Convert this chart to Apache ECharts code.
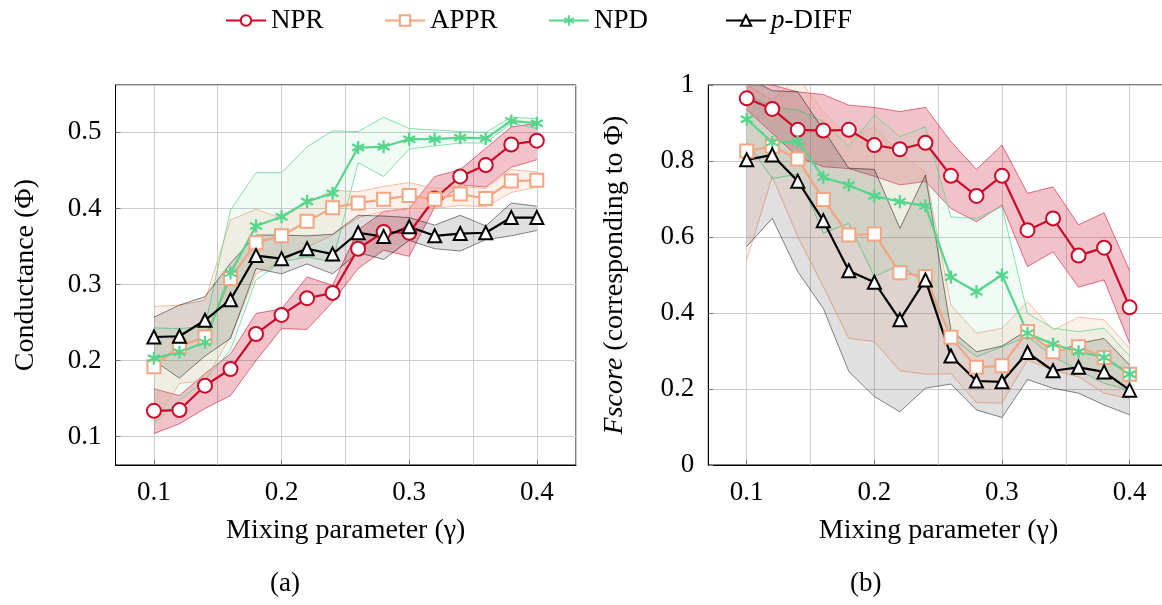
<!DOCTYPE html>
<html>
<head>
<meta charset="utf-8">
<script src="https://cdn.jsdelivr.net/npm/echarts@6/dist/echarts.min.js"></script>
<style>
  html, body { margin: 0; padding: 0; background: #fff; }
  #chart { width: 1162px; height: 605px; }
</style>
</head>
<body>
<div id="chart"></div>
<script>
// mixing parameter (gamma)
const gamma = [0.10, 0.12, 0.14, 0.16, 0.18, 0.20, 0.22, 0.24, 0.26, 0.28, 0.30, 0.32, 0.34, 0.36, 0.38, 0.40];

// (a) conductance
const nprCond    = [0.134, 0.135, 0.167, 0.189, 0.235, 0.260, 0.282, 0.289, 0.347, 0.369, 0.368, 0.413, 0.442, 0.457, 0.484, 0.489];
const nprCondLo  = [0.104, 0.117, 0.137, 0.154, 0.200, 0.242, 0.241, 0.277, 0.321, 0.345, 0.337, 0.402, 0.431, 0.428, 0.454, 0.464];
const nprCondHi  = [0.163, 0.154, 0.183, 0.209, 0.262, 0.268, 0.310, 0.299, 0.372, 0.396, 0.400, 0.442, 0.451, 0.479, 0.507, 0.512];
const apprCond   = [0.192, 0.219, 0.231, 0.308, 0.355, 0.364, 0.383, 0.401, 0.407, 0.412, 0.417, 0.412, 0.419, 0.413, 0.436, 0.437];
const apprCondLo = [0.117, 0.170, 0.174, 0.231, 0.314, 0.330, 0.349, 0.365, 0.388, 0.396, 0.400, 0.400, 0.404, 0.402, 0.421, 0.428];
const apprCondHi = [0.271, 0.273, 0.279, 0.385, 0.399, 0.387, 0.407, 0.424, 0.422, 0.429, 0.434, 0.426, 0.429, 0.426, 0.451, 0.448];
const npdCond    = [0.203, 0.211, 0.224, 0.315, 0.377, 0.389, 0.409, 0.420, 0.480, 0.481, 0.491, 0.491, 0.493, 0.492, 0.515, 0.512];
const npdCondLo  = [0.117, 0.148, 0.174, 0.214, 0.306, 0.330, 0.336, 0.330, 0.460, 0.442, 0.478, 0.482, 0.486, 0.486, 0.512, 0.505];
const npdCondHi  = [0.243, 0.242, 0.245, 0.398, 0.447, 0.447, 0.481, 0.502, 0.501, 0.520, 0.505, 0.503, 0.501, 0.500, 0.520, 0.518];
const pdiffCond  = [0.231, 0.232, 0.253, 0.280, 0.338, 0.334, 0.347, 0.340, 0.368, 0.363, 0.376, 0.364, 0.367, 0.368, 0.388, 0.388];
const pdiffCondLo = [0.200, 0.177, 0.206, 0.229, 0.321, 0.314, 0.327, 0.314, 0.342, 0.333, 0.358, 0.347, 0.344, 0.359, 0.364, 0.371];
const pdiffCondHi = [0.257, 0.273, 0.284, 0.328, 0.365, 0.365, 0.364, 0.366, 0.391, 0.390, 0.388, 0.378, 0.391, 0.377, 0.407, 0.403];

// (b) fscore
const nprF     = [0.965, 0.937, 0.882, 0.880, 0.882, 0.842, 0.831, 0.848, 0.761, 0.708, 0.761, 0.618, 0.649, 0.551, 0.572, 0.415];
const nprFLo   = [0.935, 0.873, 0.811, 0.785, 0.780, 0.760, 0.737, 0.746, 0.675, 0.640, 0.684, 0.522, 0.561, 0.468, 0.487, 0.320];
const nprFHi   = [1.010, 1.000, 0.982, 0.975, 0.947, 0.941, 0.930, 0.941, 0.851, 0.778, 0.842, 0.715, 0.732, 0.632, 0.664, 0.511];
const apprF    = [0.826, 0.839, 0.805, 0.699, 0.605, 0.608, 0.506, 0.496, 0.336, 0.257, 0.261, 0.351, 0.298, 0.311, 0.283, 0.239];
const apprFLo  = [0.539, 0.759, 0.601, 0.469, 0.333, 0.325, 0.248, 0.239, 0.240, 0.164, 0.163, 0.276, 0.250, 0.232, 0.189, 0.175];
const apprFHi  = [1.000, 0.960, 1.020, 0.930, 0.860, 0.890, 0.820, 0.770, 0.421, 0.347, 0.360, 0.430, 0.355, 0.389, 0.382, 0.307];
const npdF     = [0.910, 0.849, 0.851, 0.757, 0.737, 0.708, 0.693, 0.682, 0.494, 0.456, 0.500, 0.347, 0.318, 0.298, 0.283, 0.239];
const npdFLo   = [0.850, 0.754, 0.765, 0.610, 0.636, 0.496, 0.526, 0.478, 0.338, 0.285, 0.311, 0.338, 0.285, 0.250, 0.215, 0.197];
const npdFHi   = [0.974, 0.943, 0.934, 0.904, 0.838, 0.921, 0.864, 0.890, 0.653, 0.649, 0.680, 0.399, 0.360, 0.351, 0.360, 0.287];
const pdiffF   = [0.803, 0.816, 0.747, 0.643, 0.511, 0.481, 0.382, 0.487, 0.287, 0.221, 0.219, 0.296, 0.248, 0.257, 0.245, 0.197];
const pdiffFLo = [0.575, 0.649, 0.509, 0.412, 0.246, 0.180, 0.140, 0.202, 0.213, 0.145, 0.125, 0.225, 0.202, 0.189, 0.158, 0.132];
const pdiffFHi = [1.020, 0.985, 0.982, 0.882, 0.781, 0.778, 0.623, 0.763, 0.355, 0.298, 0.313, 0.355, 0.294, 0.320, 0.333, 0.263];

const FONT = '"Liberation Serif", "DejaVu Serif", serif';
const RED = '#cc0a2a';
const ORANGE = '#f4a582';
const GREEN = '#55d68c';
const BLACK = '#000000';

// asterisk mark made of three crossing bars
function asteriskPath() {
    const parts = [];
    [90, 30, 150].forEach(deg => {
        const a = deg * Math.PI / 180;
        const dx = Math.cos(a), dy = Math.sin(a);
        const px = -dy * 1.7, py = dx * 1.7;
        const pts = [
            [10 * dx + px, 10 * dy + py],
            [10 * dx - px, 10 * dy - py],
            [-10 * dx - px, -10 * dy - py],
            [-10 * dx + px, -10 * dy + py]
        ];
        parts.push('M' + pts.map(p => p[0].toFixed(2) + ',' + p[1].toFixed(2)).join(' L') + ' Z');
    });
    return 'path://' + parts.join(' ');
}

function pairs(ys) {
    return gamma.map((g, i) => [g, ys[i]]);
}

// shaded min/max band: one polygon between lower and upper edge, drawn with the axis scales
function band(lo, hi, color, fill, gi) {
    return {
        type: 'custom', xAxisIndex: gi, yAxisIndex: gi, silent: true,
        data: pairs(lo),
        encode: { x: 0, y: 1 },
        renderItem: (params, api) => {
            if (params.dataIndex !== 0) return null;
            const loPts = gamma.map((g, i) => api.coord([g, lo[i]]));
            const hiPts = gamma.map((g, i) => api.coord([g, hi[i]]));
            const cs = params.coordSys;
            return {
                type: 'group',
                clipPath: { type: 'rect', shape: { x: cs.x, y: cs.y, width: cs.width, height: cs.height } },
                children: [{
                    type: 'polygon',
                    shape: { points: loPts.concat(hiPts.slice().reverse()) },
                    style: { fill: fill, stroke: null }
                }, {
                    type: 'polyline', shape: { points: loPts },
                    style: { fill: null, stroke: color, lineWidth: 0.8 }
                }, {
                    type: 'polyline', shape: { points: hiPts },
                    style: { fill: null, stroke: color, lineWidth: 0.8 }
                }]
            };
        }
    };
}

function mainLine(name, ys, color, symbol, filled, gi) {
    return {
        type: 'line', name: name, xAxisIndex: gi, yAxisIndex: gi,
        data: pairs(ys), symbol: symbol, symbolSize: symbol === 'circle' ? 14 : 13,
        lineStyle: { color: color, width: 2.2 },
        itemStyle: filled
            ? { color: color, borderWidth: 0 }
            : { color: '#ffffff', borderColor: color, borderWidth: 2 }
    };
}

function seriesFor(gi, d) {
    return [
        band(d.nprLo, d.nprHi, 'rgba(204,10,42,0.7)', 'rgba(204,10,42,0.25)', gi),
        band(d.apprLo, d.apprHi, 'rgba(244,165,130,0.9)', 'rgba(244,165,130,0.16)', gi),
        band(d.npdLo, d.npdHi, 'rgba(85,214,140,0.9)', 'rgba(85,214,140,0.09)', gi),
        band(d.pdiffLo, d.pdiffHi, 'rgba(0,0,0,0.6)', 'rgba(0,0,0,0.12)', gi),
        mainLine('NPR', d.npr, RED, 'circle', false, gi),
        mainLine('APPR', d.appr, ORANGE, 'rect', false, gi),
        mainLine('NPD', d.npd, GREEN, asteriskPath(), true, gi),
        mainLine('p-DIFF', d.pdiff, BLACK, 'triangle', false, gi)
    ];
}

const axisText = { fontFamily: FONT, fontSize: 27, color: '#000' };
const nameText = { fontFamily: FONT, fontSize: 28, color: '#000' };
const gridLine = { show: true, lineStyle: { color: '#cccccc', width: 1 } };

function xAxisFor(gi) {
    return {
        type: 'value', gridIndex: gi, min: 0.0699, max: 0.4307,
        name: 'Mixing parameter (\u03b3)', nameLocation: 'middle', nameGap: 52,
        nameTextStyle: nameText,
        axisLine: { show: true, onZero: false, lineStyle: { color: '#000', width: 1 } },
        axisTick: { show: true, inside: true, length: 5, lineStyle: { color: '#777' } },
        axisLabel: Object.assign({
            margin: 14, showMinLabel: false, showMaxLabel: false,
            formatter: v => v.toFixed(1)
        }, axisText),
        splitLine: gridLine,
        minorTick: { show: false, splitNumber: 2 },
        minorSplitLine: gridLine
    };
}

function legendItem(name, left) {
    return {
        data: [name], left: left, top: 2, itemWidth: 40, itemHeight: 13, itemGap: 0,
        textStyle: {
            fontFamily: FONT, fontSize: 27, color: '#000', padding: [0, 0, 0, 0],
            rich: { i: { fontFamily: FONT, fontSize: 27, fontStyle: 'italic' } }
        },
        formatter: n => n === 'p-DIFF' ? '{i|p}-DIFF' : n
    };
}

const chart = echarts.init(document.getElementById('chart'), null, { renderer: 'canvas' });

const option = {
    animation: false,
    backgroundColor: '#ffffff',
    legend: [
        legendItem('NPR', 220),
        legendItem('APPR', 379),
        legendItem('NPD', 543),
        legendItem('p-DIFF', 720)
    ],
    grid: [
        { left: 115.5, top: 85, right: 586, height: 380, show: true, borderColor: '#000', borderWidth: 1,
          outerBoundsMode: 'none' },
        { left: 708.3, top: 85, right: -6.8, height: 380, show: true, borderColor: '#000', borderWidth: 1,
          outerBoundsMode: 'none' }
    ],
    xAxis: [xAxisFor(0), xAxisFor(1)],
    yAxis: [{
        type: 'value', gridIndex: 0, min: 0.0628, max: 0.5622,
        name: 'Conductance (\u03a6)', nameLocation: 'middle', nameGap: 76,
        nameTextStyle: nameText,
        axisLine: { show: true, lineStyle: { color: '#000', width: 1 } },
        axisTick: { show: true, inside: true, length: 5, lineStyle: { color: '#777' } },
        axisLabel: Object.assign({
            margin: 14, showMinLabel: false, showMaxLabel: false,
            formatter: v => v.toFixed(1)
        }, axisText),
        splitLine: gridLine
    }, {
        type: 'value', gridIndex: 1, min: 0, max: 1, interval: 0.2,
        name: '{i|Fscore} (corresponding to \u03a6)', nameLocation: 'middle', nameGap: 80,
        nameTextStyle: Object.assign({
            rich: { i: { fontFamily: FONT, fontSize: 28, fontStyle: 'italic' } }
        }, nameText),
        axisLine: { show: true, lineStyle: { color: '#000', width: 1 } },
        axisTick: { show: true, inside: true, length: 5, lineStyle: { color: '#777' } },
        axisLabel: Object.assign({
            margin: 14,
            formatter: v => (v === 0 || v === 1) ? String(v) : v.toFixed(1)
        }, axisText),
        splitLine: gridLine
    }],
    graphic: [
        { type: 'text', left: 270, top: 570, style: { text: '(a)', font: '27px ' + FONT, fill: '#000' } },
        { type: 'text', left: 850, top: 570, style: { text: '(b)', font: '27px ' + FONT, fill: '#000' } }
    ],
    series: seriesFor(0, {
        npr: nprCond, nprLo: nprCondLo, nprHi: nprCondHi,
        appr: apprCond, apprLo: apprCondLo, apprHi: apprCondHi,
        npd: npdCond, npdLo: npdCondLo, npdHi: npdCondHi,
        pdiff: pdiffCond, pdiffLo: pdiffCondLo, pdiffHi: pdiffCondHi
    }).concat(seriesFor(1, {
        npr: nprF, nprLo: nprFLo, nprHi: nprFHi,
        appr: apprF, apprLo: apprFLo, apprHi: apprFHi,
        npd: npdF, npdLo: npdFLo, npdHi: npdFHi,
        pdiff: pdiffF, pdiffLo: pdiffFLo, pdiffHi: pdiffFHi
    }))
};

chart.setOption(option);

window.addEventListener('resize', () => {
    chart.resize();
});
</script>
</body>
</html>
